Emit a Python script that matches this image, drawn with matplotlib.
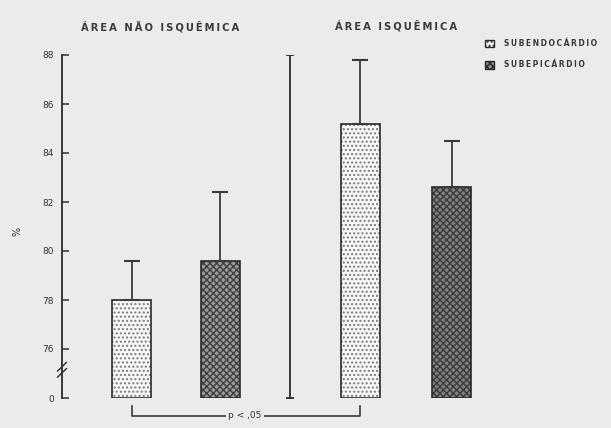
import matplotlib.pyplot as plt
from matplotlib.patches import Patch

# data (% values, mean + upper SD)
groups = ["ÁREA NÃO ISQUÊMICA", "ÁREA ISQUÊMICA"]
series = ["SUBENDOCÁRDIO", "SUBEPICÁRDIO"]
subendo = [78.0, 85.2]
subendo_sd = [1.6, 2.6]
subepi = [79.6, 82.6]
subepi_sd = [2.8, 1.9]
ytick_vals = [74, 76, 78, 80, 82, 84, 86, 88]
ytick_labels = ["0", "76", "78", "80", "82", "84", "86", "88"]

base = 74  # axis break: "0" sits one tick below 76
bg = "#ebebeb"


def spaced(s):
    return "\u2009".join(s)


fig = plt.figure(figsize=(6.11, 4.28), dpi=100, facecolor=bg)
ax = fig.add_axes([62 / 611, 30 / 428, 549 / 611, 343 / 428])
ax.set_facecolor("none")

x_endo = [0.0, 2.573]
x_epi = [1.0, 3.596]
w = 0.44

# light dotted bars
ax.bar(x_endo, [v - base for v in subendo], w, bottom=base,
       color="#f7f7f7", hatch="....", edgecolor="#7a7a7a", linewidth=0)
ax.bar(x_endo, [v - base for v in subendo], w, bottom=base,
       fill=False, edgecolor="#2a2a2a", linewidth=1.2)
# dark stippled bars
ax.bar(x_epi[0], subepi[0] - base, w, bottom=base,
       color="#9a9a9a", hatch="xxxxx", edgecolor="#404040", linewidth=0)
ax.bar(x_epi[1], subepi[1] - base, w, bottom=base,
       color="#808080", hatch="xxxxx", edgecolor="#3a3a3a", linewidth=0)
ax.bar(x_epi, [v - base for v in subepi], w, bottom=base,
       fill=False, edgecolor="#2a2a2a", linewidth=1.2)

# upper error bars only
ax.errorbar(x_endo, subendo, yerr=[[0, 0], subendo_sd], fmt="none",
            ecolor="#3a3a3a", elinewidth=1.3, capsize=6, capthick=1.5)
ax.errorbar(x_epi, subepi, yerr=[[0, 0], subepi_sd], fmt="none",
            ecolor="#3a3a3a", elinewidth=1.3, capsize=6, capthick=1.5)

# divider between the two areas
xd = 1.781
ax.plot([xd, xd], [base, 88], color="#2a2a2a", lw=1.3)
ax.plot([xd, xd], [base, 88], ls="none", marker="_", ms=6, mew=1.3, color="#2a2a2a")

ax.set_xlim(-0.781, 5.388)
ax.set_ylim(base, 88)
for s in ["top", "right", "bottom"]:
    ax.spines[s].set_visible(False)
ax.spines["left"].set_linewidth(1.3)
ax.spines["left"].set_color("#2a2a2a")
ax.set_xticks([])
ax.set_yticks(ytick_vals)
ax.set_yticklabels(ytick_labels, fontsize=6.5, color="#333333")
ax.tick_params(axis="y", direction="in", length=5, width=1.1, pad=6, colors="#333333")

# axis break mark
tr = ax.get_yaxis_transform()
for dy in (0.0, 0.25):
    ax.plot([-0.008, 0.008], [74.85 + dy, 75.2 + dy], transform=tr,
            color="#2a2a2a", lw=1.0, clip_on=False)

fig.text(0.028, 0.46, "%", fontsize=7, rotation=90, color="#333333",
         ha="center", va="center")

# group titles
fig.text(160 / 611, 1 - 27 / 428, spaced(groups[0]), fontsize=7.2, weight="bold",
         ha="center", va="center", color="#3a3a3a")
fig.text(396 / 611, 1 - 26 / 428, spaced(groups[1]), fontsize=7.2, weight="bold",
         ha="center", va="center", color="#3a3a3a")

# significance bracket
yb, yt = 73.27, 73.67
ax.plot([x_endo[0], x_endo[0], x_endo[1], x_endo[1]], [yt, yb, yb, yt],
        color="#2a2a2a", lw=1.1, clip_on=False)
ax.text(1.275, yb, "p < ,05", fontsize=6.5, ha="center", va="center",
        color="#333333", bbox=dict(facecolor=bg, edgecolor="none", pad=1.5))

handles = [Patch(facecolor="#f7f7f7", edgecolor="#2a2a2a", hatch="...."),
           Patch(facecolor="#8a8a8a", edgecolor="#2a2a2a", hatch="xxxxx")]
fig.legend(handles, [spaced(s) for s in series], loc="upper left",
           bbox_to_anchor=(482 / 611, 1 - 36 / 428),
           frameon=False, handlelength=1.2, handleheight=1.2,
           handletextpad=1.3, labelspacing=1.6, borderaxespad=0,
           prop=dict(size=5.5, weight="bold"), labelcolor="#3a3a3a")

fig.savefig("out.png", dpi=100, facecolor=bg)
